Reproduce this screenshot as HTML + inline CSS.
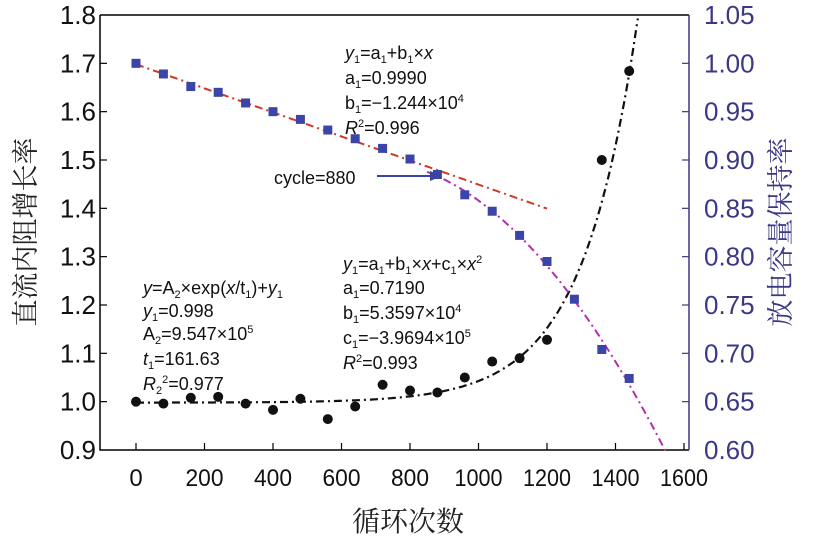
<!DOCTYPE html>
<html><head><meta charset="utf-8"><style>
html,body{margin:0;padding:0;background:#fff;}
svg{display:block;font-family:"Liberation Sans","Noto Sans CJK SC",sans-serif;}
</style></head><body>
<svg id="chart" width="814" height="539" viewBox="0 0 814 539" xmlns="http://www.w3.org/2000/svg"></svg>
<script>
const cycles = [0,80,160,240,320,400,480,560,640,720,800,880,960,1040,1120,1200,1360,1440];
const resistance = [1.0,0.996,1.008,1.01,0.996,0.983,1.006,0.964,0.99,1.035,1.023,1.019,1.05,1.083,1.09,1.128,1.5,1.684];
const capCycles = [0,80,160,240,320,400,480,560,640,720,800,880,960,1040,1120,1200,1280,1360,1440];
const capacity = [1.0,0.989,0.976,0.970,0.959,0.950,0.942,0.931,0.922,0.912,0.901,0.885,0.864,0.847,0.822,0.795,0.756,0.704,0.674];
const xTicks = [0,200,400,600,800,1000,1200,1400,1600];
const yLeftTicks = [0.9,1.0,1.1,1.2,1.3,1.4,1.5,1.6,1.7,1.8];
const yRightTicks = [0.60,0.65,0.70,0.75,0.80,0.85,0.90,0.95,1.00,1.05];
const fitExp = {y0:0.998, A:9.2e-5, t:161.63};
const fitLin = {a:0.999, b:-1.244e-4};
const fitQuad = {a:0.719, b:5.3597e-4, c:-3.9694e-7};

const L=100,R=689,T=15,B=450;
const X=v=>136+(v/1600)*(684-136);
const YL=v=>B-(v-0.9)/0.9*(B-T);
const YR=v=>B-(v-0.6)/0.45*(B-T);
const svg=document.getElementById('chart');
const NS='http://www.w3.org/2000/svg';
function mk(tag,attrs,parent){const e=document.createElementNS(NS,tag);for(const k in attrs)e.setAttribute(k,attrs[k]);(parent||svg).appendChild(e);return e;}
const purple='#3b3886';

let f=mk('path',{d:`M${L},${T}H${R}`,stroke:'#000','stroke-width':1.5,fill:'none'});

f=mk('path',{d:`M${L},${T}V${B}H${R}`,stroke:'#000','stroke-width':1.5,fill:'none'});

f=mk('path',{d:`M${R},${T}V${B}`,stroke:purple,'stroke-width':1.5,fill:'none'});


xTicks.forEach(v=>{
  const l=mk('line',{x1:X(v),x2:X(v),y1:B,y2:B-7,stroke:'#000','stroke-width':1.2});
  
  const t=mk('text',{x:X(v),y:486,'font-size':24,'text-anchor':'middle',fill:'#111'});
  
  t.textContent=v;
  const n=String(v).length;
  if(n>1){t.setAttribute('textLength',n===4?48:38);t.setAttribute('lengthAdjust','spacingAndGlyphs');}
});
yLeftTicks.forEach(v=>{
  if(v>0.9&&v<1.8){const l=mk('line',{x1:L,x2:L+7,y1:YL(v),y2:YL(v),stroke:'#000','stroke-width':1.2});
  }
  const t=mk('text',{x:96,y:YL(v)+9,'font-size':26,'text-anchor':'end',fill:'#111'});
  
  t.textContent=v.toFixed(1);
});
yRightTicks.forEach(v=>{
  if(v>0.6&&v<1.05){const l=mk('line',{x1:R,x2:R-7,y1:YR(v),y2:YR(v),stroke:purple,'stroke-width':1.2});
  }
  const t=mk('text',{x:704,y:YR(v)+9,'font-size':26,fill:purple});
  
  t.textContent=v.toFixed(2);
});

let t=mk('text',{x:408,y:531,'font-size':28,'text-anchor':'middle',fill:'#222','font-family':'"Noto Serif CJK SC","Noto Sans CJK SC",serif'});
t.textContent='循环次数';
t=mk('text',{x:0,y:0,'font-size':27,'text-anchor':'middle',fill:'#222',transform:'translate(35,232) rotate(-90)','font-family':'"Noto Serif CJK SC","Noto Sans CJK SC",serif'});
t.textContent='直流内阻增长率';
t=mk('text',{x:0,y:0,'font-size':27,'text-anchor':'middle',fill:purple,transform:'translate(790,232) rotate(-90)','font-family':'"Noto Serif CJK SC","Noto Sans CJK SC",serif'});
t.textContent='放电容量保持率';

function curve(fn,x0,x1,Y){let d='';for(let x=x0;x<=x1+0.01;x+=5){d+=(d?'L':'M')+X(x).toFixed(1)+','+Y(fn(x)).toFixed(1);}return d;}
const xTop=fitExp.t*Math.log((1.8-fitExp.y0)/fitExp.A);
let c=mk('path',{d:curve(x=>fitExp.y0+fitExp.A*Math.exp(x/fitExp.t),0,xTop,YL),stroke:'#111','stroke-width':2.2,fill:'none','stroke-dasharray':'8 4 2 4'});

c=mk('path',{d:curve(x=>fitLin.a+fitLin.b*x,0,1200,YR),stroke:'#d0392a','stroke-width':2,fill:'none','stroke-dasharray':'8 4 2 4'});

c=mk('path',{d:curve(x=>fitQuad.a+fitQuad.b*x+fitQuad.c*x*x,850,1545,YR),stroke:'#b22fb0','stroke-width':2,fill:'none','stroke-dasharray':'8 4 2 4'});


capCycles.forEach((x,i)=>{
  const r=mk('rect',{x:X(x)-4.5,y:YR(capacity[i])-4.5,width:9,height:9,fill:'#3b45a8'});
  
});
cycles.forEach((x,i)=>{
  const p=mk('circle',{cx:X(x),cy:YL(resistance[i]),r:5,fill:'#111'});
  
});

let a=mk('line',{x1:377,y1:176,x2:432,y2:176,stroke:'#3a44a0','stroke-width':2});

a=mk('path',{d:'M442,176L430,171L430,181Z',fill:'#3a44a0'});

t=mk('text',{x:274,y:184,'font-size':18,fill:'#111'});
t.textContent='cycle=880';

function block(x,ys,lines,name){
  lines.forEach((h,i)=>{
    const e=mk('text',{x:x,y:ys[i],'font-size':18,fill:'#111'});
    
    e.innerHTML=h;
  });
}
const sub=s=>`<tspan font-size="11" baseline-shift="-4">${s}</tspan>`;
const sup=s=>`<tspan font-size="11" baseline-shift="7">${s}</tspan>`;
const it=s=>`<tspan font-style="italic">${s}</tspan>`;
block(345,[59,84,109,134],[
  `${it('y')}${sub(1)}=a${sub(1)}+b${sub(1)}×${it('x')}`,
  `a${sub(1)}=0.9990`,
  `b${sub(1)}=−1.244×10${sup(4)}`,
  `${it('R')}${sup(2)}=0.996`
],'linear-fit-equation');
block(143,[294,317,340,365,390],[
  `${it('y')}=A${sub(2)}×exp(${it('x')}/t${sub(1)})+${it('y')}${sub(1)}`,
  `${it('y')}${sub(1)}=0.998`,
  `A${sub(2)}=9.547×10${sup(5)}`,
  `${it('t')}${sub(1)}=161.63`,
  `${it('R')}${sub(2)}${sup(2)}=0.977`
],'exp-fit-equation');
block(343,[270,294,319,344,369],[
  `${it('y')}${sub(1)}=a${sub(1)}+b${sub(1)}×${it('x')}+c${sub(1)}×${it('x')}${sup(2)}`,
  `a${sub(1)}=0.7190`,
  `b${sub(1)}=5.3597×10${sup(4)}`,
  `c${sub(1)}=−3.9694×10${sup(5)}`,
  `${it('R')}${sup(2)}=0.993`
],'quadratic-fit-equation');
</script>
</body></html>
